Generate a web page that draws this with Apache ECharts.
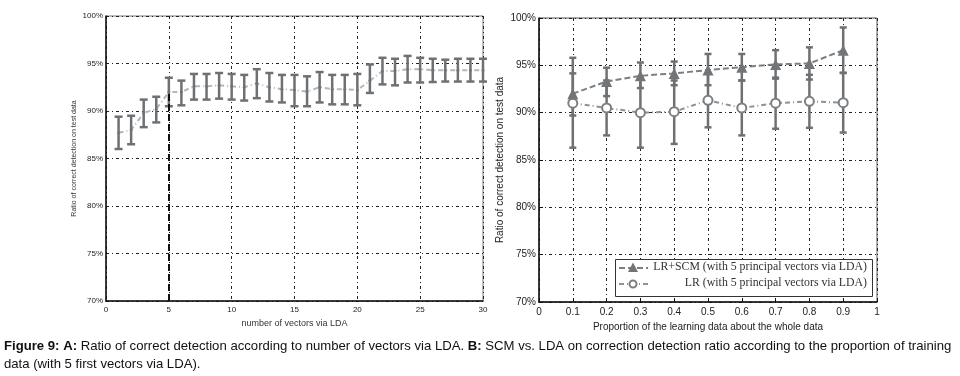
<!DOCTYPE html>
<html>
<head>
<meta charset="utf-8">
<script src="https://cdn.jsdelivr.net/npm/echarts@6/dist/echarts.min.js"></script>
<style>
  html, body { margin: 0; padding: 0; background: #fff; }
  #chart { width: 960px; height: 376px; }
</style>
</head>
<body>
<div id="chart"></div>
<script>
// panel A: number of vectors via LDA
var vectorsA = [1, 2, 3, 4, 5, 6, 7, 8, 9, 10, 11, 12, 13, 14, 15, 16, 17, 18, 19, 20, 21, 22, 23, 24, 25, 26, 27, 28, 29, 30];
var meanA = [87.7, 88.0, 89.8, 90.2, 92.0, 92.0, 92.6, 92.6, 92.7, 92.6, 92.5, 92.9, 92.5, 92.3, 92.2, 92.05, 92.5, 92.3, 92.3, 92.2, 93.2, 94.2, 94.2, 94.4, 94.4, 94.3, 94.3, 94.3, 94.3, 94.3];
var lowA = [86.0, 86.5, 88.3, 88.8, 90.5, 90.6, 91.2, 91.2, 91.3, 91.2, 91.1, 91.35, 91.0, 90.9, 90.5, 90.5, 90.9, 90.7, 90.7, 90.6, 91.9, 92.8, 92.7, 93.0, 93.0, 93.05, 93.1, 93.1, 93.1, 93.1];
var highA = [89.4, 89.5, 91.2, 91.5, 93.5, 93.2, 93.9, 93.9, 94.0, 93.9, 93.8, 94.4, 94.0, 93.8, 93.8, 93.65, 94.1, 93.8, 93.8, 93.9, 94.9, 95.6, 95.5, 95.8, 95.6, 95.5, 95.4, 95.5, 95.5, 95.5];
var chosenVectors = 5;

// panel B: proportion of learning data
var proportionB = [0.1, 0.2, 0.3, 0.4, 0.5, 0.6, 0.7, 0.8, 0.9];
var meanScm = [92.0, 93.3, 93.9, 94.15, 94.5, 94.8, 95.1, 95.2, 96.6];
var lowScm = [89.7, 91.75, 92.6, 92.9, 92.9, 93.4, 93.6, 93.5, 94.2];
var highScm = [94.15, 94.75, 95.3, 95.4, 96.2, 96.2, 96.6, 96.9, 99.0];
var meanLr = [91.0, 90.5, 90.0, 90.1, 91.3, 90.5, 91.0, 91.2, 91.05];
var lowLr = [86.3, 87.6, 86.3, 86.7, 88.45, 87.6, 88.3, 88.4, 87.9];
var highLr = [95.8, 93.4, 93.7, 93.4, 94.15, 93.4, 93.7, 94.0, 94.2];

var xTicksB = ['0', '0.1', '0.2', '0.3', '0.4', '0.5', '0.6', '0.7', '0.8', '0.9', '1'];
var nameScm = 'LR+SCM (with 5 principal vectors via LDA)';
var nameLr = 'LR (with 5 principal vectors via LDA)';

var barColor = '#6e7174';
var gridDash = [3, 3, 1, 3];

function zip(xs, a, b) {
  return xs.map(function (x, i) { return b ? [x, a[i], b[i]] : [x, a[i]]; });
}

function errorBars(capW, lw) {
  return function (params, api) {
    var x = api.value(0);
    var p1 = api.coord([x, api.value(1)]);
    var p2 = api.coord([x, api.value(2)]);
    var h = capW / 2;
    var st = { stroke: barColor, lineWidth: lw };
    return {
      type: 'group',
      children: [
        { type: 'line', shape: { x1: p1[0], y1: p1[1], x2: p2[0], y2: p2[1] }, style: st },
        { type: 'line', shape: { x1: p1[0] - h, y1: p1[1], x2: p1[0] + h, y2: p1[1] }, style: st },
        { type: 'line', shape: { x1: p2[0] - h, y1: p2[1], x2: p2[0] + h, y2: p2[1] }, style: st }
      ]
    };
  };
}

var chart = echarts.init(document.getElementById('chart'));

var option = {
  animation: false,
  backgroundColor: '#fff',
  grid: [
    { left: 106, top: 16, width: 377, height: 285, show: true, borderColor: '#777', borderWidth: 1 },
    { left: 539, top: 18, width: 338, height: 284, show: true, borderColor: '#555', borderWidth: 1 }
  ],
  xAxis: [
    {
      gridIndex: 0, type: 'value', min: 0, max: 30, interval: 5,
      name: 'number of vectors via LDA', nameLocation: 'middle', nameGap: 16,
      nameTextStyle: { fontSize: 9, color: '#333', fontFamily: 'Liberation Sans' },
      axisLine: { lineStyle: { color: '#111', width: 1.5 } },
      axisTick: { show: false },
      axisLabel: { fontSize: 8, color: '#222', margin: 5, fontFamily: 'Liberation Sans' },
      splitLine: { show: true, lineStyle: { color: '#222', type: gridDash, width: 1 } }
    },
    {
      gridIndex: 1, type: 'value', min: 0, max: 1, interval: 0.1,
      name: 'Proportion of the learning data about the whole data', nameLocation: 'middle', nameGap: 16,
      nameTextStyle: { fontSize: 10, color: '#222', fontFamily: 'Liberation Sans' },
      axisLine: { lineStyle: { color: '#111', width: 1.5 } },
      axisTick: { show: true, inside: true, length: 4, lineStyle: { color: '#111' } },
      axisLabel: {
        fontSize: 10, color: '#222', margin: 5, fontFamily: 'Liberation Sans',
        formatter: function (v) { return xTicksB[Math.round(v * 10)]; }
      },
      splitLine: { show: true, lineStyle: { color: '#222', type: gridDash, width: 1 } }
    }
  ],
  yAxis: [
    {
      gridIndex: 0, type: 'value', min: 70, max: 100, interval: 5,
      name: 'Ratio of correct detection on test data', nameLocation: 'middle', nameGap: 28,
      nameTextStyle: { fontSize: 7, color: '#333', fontFamily: 'Liberation Sans' },
      axisLine: { show: true, lineStyle: { color: '#111', width: 1.5 } },
      axisTick: { show: false },
      axisLabel: { fontSize: 8, color: '#222', margin: 3, fontFamily: 'Liberation Sans', formatter: '{value}%' },
      splitLine: { show: true, lineStyle: { color: '#222', type: gridDash, width: 1 } }
    },
    {
      gridIndex: 1, type: 'value', min: 70, max: 100, interval: 5,
      name: 'Ratio of correct detection on test data', nameLocation: 'middle', nameGap: 34,
      nameTextStyle: { fontSize: 10, color: '#222', fontFamily: 'Liberation Sans' },
      axisLine: { show: true, lineStyle: { color: '#111', width: 1.5 } },
      axisTick: { show: true, inside: true, length: 4, lineStyle: { color: '#111' } },
      axisLabel: { fontSize: 10, color: '#222', margin: 3, fontFamily: 'Liberation Sans', formatter: '{value}%' },
      splitLine: { show: true, lineStyle: { color: '#222', type: gridDash, width: 1 } }
    }
  ],
  series: [
    {
      type: 'line', xAxisIndex: 0, yAxisIndex: 0,
      data: zip(vectorsA, meanA),
      symbol: 'circle', symbolSize: 3,
      itemStyle: { color: '#8d9093' },
      lineStyle: { color: '#b4b6b8', width: 2, type: [5, 3, 1, 3] },
      z: 2,
      markLine: {
        silent: true, symbol: 'none', label: { show: false },
        lineStyle: { color: '#111', width: 2, type: [7, 3] },
        data: [[{ coord: [chosenVectors, 70] }, { coord: [chosenVectors, meanA[chosenVectors - 1]] }]]
      }
    },
    {
      type: 'custom', xAxisIndex: 0, yAxisIndex: 0,
      data: zip(vectorsA, lowA, highA),
      renderItem: errorBars(8, 2.5), z: 3
    },
    {
      type: 'custom', xAxisIndex: 1, yAxisIndex: 1,
      data: zip(proportionB, lowLr, highLr),
      renderItem: errorBars(7, 2.5), z: 2
    },
    {
      type: 'custom', xAxisIndex: 1, yAxisIndex: 1,
      data: zip(proportionB, lowScm, highScm),
      renderItem: errorBars(7, 2.5), z: 2
    },
    {
      name: nameLr, type: 'line', xAxisIndex: 1, yAxisIndex: 1,
      data: zip(proportionB, meanLr),
      symbol: 'circle', symbolSize: 9,
      itemStyle: { color: '#fff', borderColor: '#7c7f82', borderWidth: 2 },
      lineStyle: { color: '#8e9194', width: 2, type: [5, 3, 1, 3] },
      z: 4
    },
    {
      name: nameScm, type: 'line', xAxisIndex: 1, yAxisIndex: 1,
      data: zip(proportionB, meanScm),
      symbol: 'triangle', symbolSize: 11,
      itemStyle: { color: '#727578' },
      lineStyle: { color: '#7c7f82', width: 2, type: [6, 3] },
      z: 4
    }
  ],
  graphic: [
    // legend box of panel B
    {
      type: 'rect', left: 615, top: 259, shape: { width: 257, height: 37 },
      style: { fill: '#fff', stroke: '#333', lineWidth: 1 }, z: 10
    },
    {
      type: 'line', shape: { x1: 619, y1: 268, x2: 648, y2: 268 },
      style: { stroke: '#7c7f82', lineWidth: 2, lineDash: [6, 3] }, z: 11
    },
    {
      type: 'polygon', shape: { points: [[633, 262.5], [638, 272], [628, 272]] },
      style: { fill: '#727578' }, z: 12
    },
    {
      type: 'line', shape: { x1: 619, y1: 284, x2: 648, y2: 284 },
      style: { stroke: '#8e9194', lineWidth: 2, lineDash: [5, 3, 1, 3] }, z: 11
    },
    {
      type: 'circle', shape: { cx: 633, cy: 284, r: 3.5 },
      style: { fill: '#fff', stroke: '#7c7f82', lineWidth: 2 }, z: 12
    },
    {
      type: 'text', right: 960 - 867, top: 261, z: 12,
      style: { text: nameScm, font: '11.8px "Liberation Serif", serif', fill: '#333', textAlign: 'right' }
    },
    {
      type: 'text', right: 960 - 867, top: 277, z: 12,
      style: { text: nameLr, font: '11.8px "Liberation Serif", serif', fill: '#333', textAlign: 'right' }
    },
    // figure caption
    {
      type: 'text', left: 4, top: 337, z: 12,
      style: {
        text: '{b|Figure 9: A:} Ratio of correct detection according to number of vectors via LDA. {b|B:} SCM vs. LDA on correction detection ratio according to the proportion of training\ndata (with 5 first vectors via LDA).',
        font: '13.15px "Liberation Sans", Arial',
        fill: '#111', lineHeight: 18,
        rich: { b: { fontWeight: 'bold', fontSize: 13.15, fontFamily: '"Liberation Sans", Arial', fill: '#111' } }
      }
    }
  ]
};

chart.setOption(option);
</script>
</body>
</html>
